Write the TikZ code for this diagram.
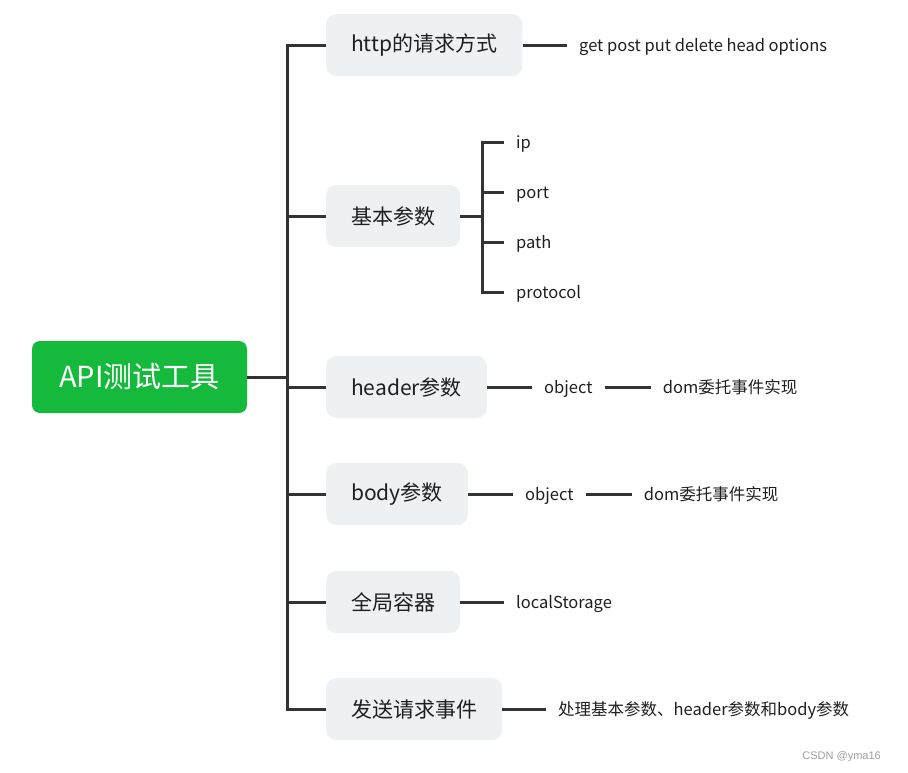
\documentclass[tikz,border=0pt]{standalone}
\usepackage{fontspec}
\setmainfont{Noto Sans CJK SC}
\newfontfamily\marksans{Liberation Sans}
\usepackage{xcolor}
\usetikzlibrary{positioning}
\definecolor{rootgreen}{RGB}{21,186,60}
\definecolor{boxgray}{RGB}{238,241,244}
\definecolor{linegray}{RGB}{51,51,51}

\begin{document}
\begin{tikzpicture}[x=1pt, y=-1pt,
  branch/.style={draw=linegray, line width=3pt},
  topic/.style={fill=boxgray, rounded corners=10pt, minimum height=62pt, inner xsep=25pt, anchor=west, text=black!88, font=\fontsize{21}{24}\selectfont},
  leaf/.style={anchor=west, inner xsep=12pt, inner ysep=0pt, text height=15pt, text depth=2pt, text=black!88, font=\fontsize{16.5}{19}\selectfont}]
\useasboundingbox (0,0) rectangle (908,772);
% --- Root ---
\node[fill=rootgreen, rounded corners=8pt, minimum width=215pt, minimum height=72pt, text=white, font=\fontsize{29}{32}\selectfont] (api) at (139.5,377) {API测试工具};
\coordinate (trunk) at (287,377);
\draw[branch] (api.east) -- (trunk);

% --- Topics ---
\node[topic] (http) at (326,45) {http的请求方式};
\node[topic] (basic) at (326,216) {基本参数};
\node[topic] (header) at (326,387) {header参数};
\node[topic] (body) at (326,494) {body参数};
\node[topic] (store) at (326,602) {全局容器};
\node[topic] (send) at (326,709) {发送请求事件};
% trunk and stubs
\draw[branch, line cap=rect] (trunk |- http.west) -- (trunk |- send.west);
\foreach \t in {http,basic,header,body,store,send}
  \draw[branch] (trunk |- \t.west) -- (\t.west);

% --- Leaves ---
\node[leaf] (methods) at (567,45) {get post put delete head options};
\draw[branch] (http.east) -- (methods.west);
% basic parameters
\coordinate (fork) at (482,216);
\draw[branch] (basic.east) -- (fork);
\foreach \n/\y/\txt in {kip/142/ip, kport/192/port, kpath/242/path, kproto/292/protocol} {
  \node[leaf] (\n) at (504,\y) {\txt};
  \draw[branch] (fork) |- (\n.west);
}
% header
\node[leaf] (hobj) at (532,387) {object};
\node[leaf, right=46pt of hobj] (hdom) {dom委托事件实现};
\draw[branch] (header.east) -- (hobj.west);
\draw[branch] (hobj.east) -- (hdom.west);
% body
\node[leaf] (bobj) at (513,494) {object};
\node[leaf, right=46pt of bobj] (bdom) {dom委托事件实现};
\draw[branch] (body.east) -- (bobj.west);
\draw[branch] (bobj.east) -- (bdom.west);
% store and send
\node[leaf] (local) at (504,602) {localStorage};
\draw[branch] (store.east) -- (local.west);
\node[leaf] (handle) at (546,709) {处理基本参数、header参数和body参数};
\draw[branch] (send.east) -- (handle.west);

% watermark
\node[anchor=east, inner sep=0pt, text=black!38, font=\marksans\fontsize{11}{13}\selectfont] (mark) at (881,757) {CSDN @yma16};
\end{tikzpicture}
\end{document}
